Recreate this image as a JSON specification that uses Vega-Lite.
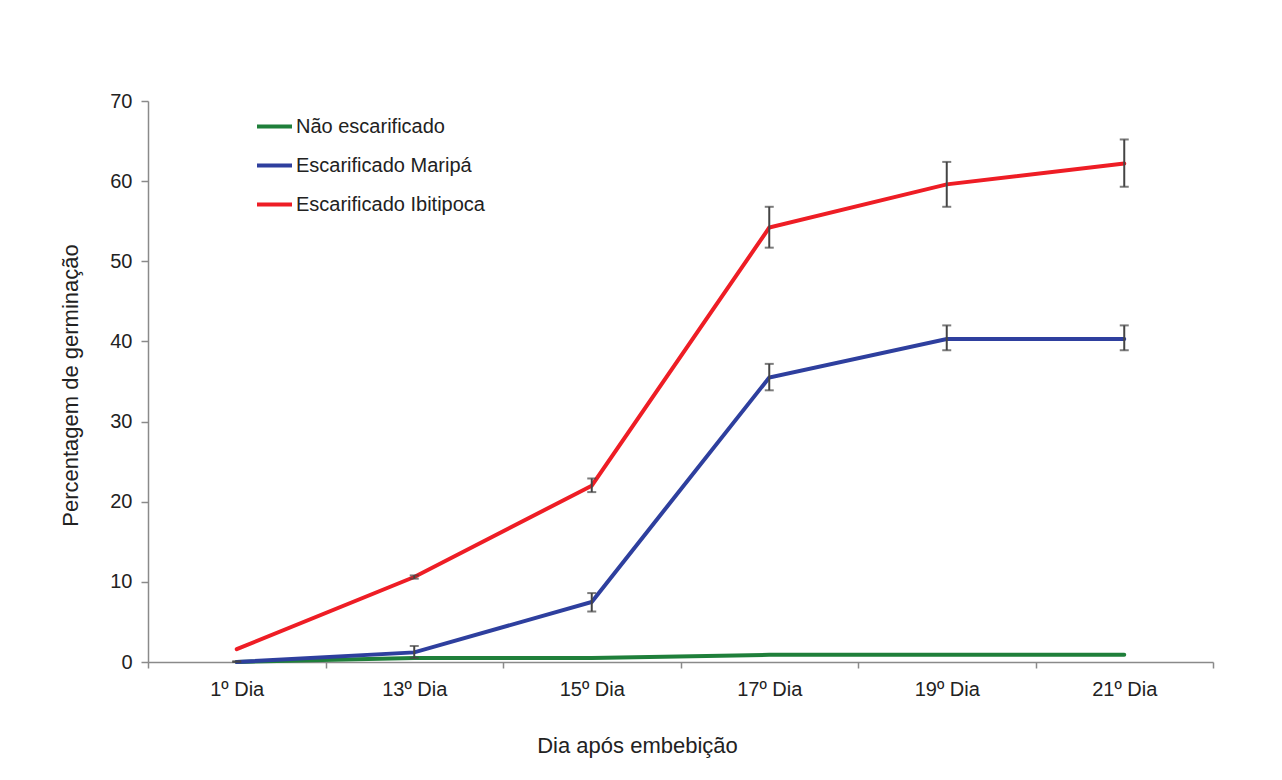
{
  "$schema": "https://vega.github.io/schema/vega-lite/v6.json",
  "width": 1065,
  "height": 561,
  "autosize": {"type": "none"},
  "padding": {"left": 148, "top": 101, "right": 69, "bottom": 118},
  "background": "white",
  "config": {
    "font": "Liberation Sans",
    "view": {"stroke": null},
    "axis": {"grid": false, "domainColor": "#8a8a8a", "tickColor": "#8a8a8a", "domainWidth": 1.5, "tickWidth": 1.5, "labelColor": "#222222", "titleColor": "#222222", "labelFont": "Liberation Sans", "titleFont": "Liberation Sans", "titleFontWeight": "normal"}
  },
  "data": {"values": [
    {"dia": "1º Dia", "serie": "Não escarificado", "valor": 0.0},
    {"dia": "13º Dia", "serie": "Não escarificado", "valor": 0.5},
    {"dia": "15º Dia", "serie": "Não escarificado", "valor": 0.5},
    {"dia": "17º Dia", "serie": "Não escarificado", "valor": 0.9},
    {"dia": "19º Dia", "serie": "Não escarificado", "valor": 0.9},
    {"dia": "21º Dia", "serie": "Não escarificado", "valor": 0.9},
    {"dia": "1º Dia", "serie": "Escarificado Maripá", "valor": 0.0, "lo": 0.0, "hi": 0.1},
    {"dia": "13º Dia", "serie": "Escarificado Maripá", "valor": 1.2, "lo": 0.5, "hi": 2.0},
    {"dia": "15º Dia", "serie": "Escarificado Maripá", "valor": 7.5, "lo": 6.3, "hi": 8.6},
    {"dia": "17º Dia", "serie": "Escarificado Maripá", "valor": 35.5, "lo": 33.9, "hi": 37.2},
    {"dia": "19º Dia", "serie": "Escarificado Maripá", "valor": 40.3, "lo": 38.9, "hi": 42.0},
    {"dia": "21º Dia", "serie": "Escarificado Maripá", "valor": 40.3, "lo": 38.9, "hi": 42.0},
    {"dia": "1º Dia", "serie": "Escarificado Ibitipoca", "valor": 1.6},
    {"dia": "13º Dia", "serie": "Escarificado Ibitipoca", "valor": 10.6, "lo": 10.4, "hi": 10.8},
    {"dia": "15º Dia", "serie": "Escarificado Ibitipoca", "valor": 22.0, "lo": 21.2, "hi": 22.9},
    {"dia": "17º Dia", "serie": "Escarificado Ibitipoca", "valor": 54.2, "lo": 51.7, "hi": 56.8},
    {"dia": "19º Dia", "serie": "Escarificado Ibitipoca", "valor": 59.6, "lo": 56.8, "hi": 62.4},
    {"dia": "21º Dia", "serie": "Escarificado Ibitipoca", "valor": 62.2, "lo": 59.3, "hi": 65.2}
  ]},
  "encoding": {
    "x": {
      "field": "dia", "type": "nominal",
      "sort": ["1º Dia", "13º Dia", "15º Dia", "17º Dia", "19º Dia", "21º Dia"],
      "scale": {"type": "band", "paddingInner": 0, "paddingOuter": 0},
      "bandPosition": 0.5,
      "axis": {"title": "Dia após embebição", "labelAngle": 0, "labelFontSize": 20, "tickBand": "extent", "tickSize": 6, "labelPadding": 11, "titleFontSize": 22, "titleX": 489, "titleY": 90, "titleBaseline": "alphabetic", "titleAnchor": null, "titleAlign": "center"}
    }
  },
  "layer": [
    {
      "mark": {"type": "line", "strokeWidth": 4, "strokeCap": "round"},
      "encoding": {
        "y": {"field": "valor", "type": "quantitative", "scale": {"domain": [0, 70]},
          "axis": {"title": "Percentagem de germinação", "values": [0, 10, 20, 30, 40, 50, 60, 70], "labelFontSize": 20, "tickSize": 7, "labelPadding": 9, "titleFontSize": 22, "titleX": -78, "titleY": 284, "titleAngle": 270, "titleAlign": "center", "titleBaseline": "middle", "titleAnchor": null}},
        "color": {"field": "serie", "type": "nominal",
          "scale": {"domain": ["Não escarificado", "Escarificado Maripá", "Escarificado Ibitipoca"], "range": ["#1f7f3a", "#2e3f9e", "#ee1d25"]},
          "legend": {"title": null, "orient": "none", "legendX": 107, "legendY": 6, "symbolType": "stroke", "symbolSize": 1225, "symbolStrokeWidth": 4, "labelFontSize": 20, "labelLimit": 400, "labelColor": "#222222", "labelOffset": 2, "rowPadding": 9, "padding": 0}
        }
      }
    },
    {
      "transform": [{"filter": "isValid(datum.lo)"}],
      "mark": {"type": "rule", "color": "#444444", "strokeWidth": 2},
      "encoding": {"y": {"field": "lo", "type": "quantitative"}, "y2": {"field": "hi"}}
    },
    {
      "transform": [{"filter": "isValid(datum.lo)"}],
      "mark": {"type": "tick", "color": "#444444", "thickness": 2, "size": 9, "orient": "horizontal"},
      "encoding": {"y": {"field": "lo", "type": "quantitative"}}
    },
    {
      "transform": [{"filter": "isValid(datum.lo)"}],
      "mark": {"type": "tick", "color": "#444444", "thickness": 2, "size": 9, "orient": "horizontal"},
      "encoding": {"y": {"field": "hi", "type": "quantitative"}}
    }
  ]
}
